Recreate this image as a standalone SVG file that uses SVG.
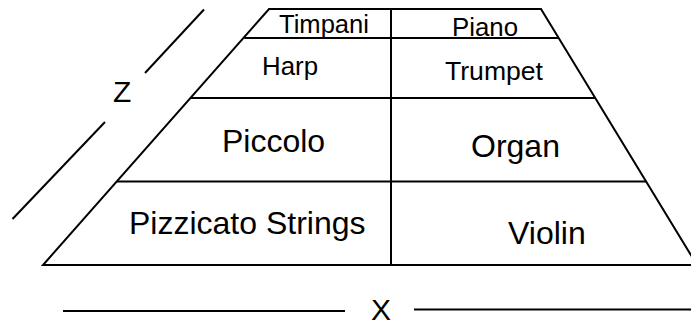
<svg xmlns="http://www.w3.org/2000/svg" width="691" height="326" viewBox="0 0 691 326">
  <style>
    .ln { stroke: #000; stroke-width: 2; fill: none; stroke-linecap: butt; }
    .t { font-family: "Liberation Sans", Arial, sans-serif; fill: #000; }
    .sm { font-size: 25px; }
    .lg { font-size: 32px; }
    .ax { font-size: 30px; }
  </style>
  <rect width="691" height="326" fill="#fff"/>

  <!-- trapezoid frame and grid lines -->
  <g id="connectors">
    <polygon class="ln" points="269,9 541,9 697,265 43,265"/>
    <line class="ln" x1="244.3" y1="38" x2="558.7" y2="38"/>
    <line class="ln" x1="191.1" y1="98" x2="595.2" y2="98"/>
    <line class="ln" x1="117.1" y1="181.5" x2="646.2" y2="181.5"/>
    <line class="ln" x1="391" y1="9" x2="391" y2="265"/>
    <!-- Z axis -->
    <line class="ln" x1="204" y1="9.5" x2="145" y2="73"/>
    <line class="ln" x1="105" y1="122" x2="12.5" y2="219"/>
    <!-- X axis -->
    <line class="ln" x1="63" y1="311" x2="345" y2="311"/>
    <line class="ln" x1="414" y1="309.5" x2="691" y2="309.5"/>
  </g>

  <g id="timpani"><text class="t sm" x="279" y="33" textLength="90" lengthAdjust="spacingAndGlyphs">Timpani</text></g>
  <g id="piano"><text class="t sm" x="452" y="36" textLength="66" lengthAdjust="spacingAndGlyphs">Piano</text></g>
  <g id="harp"><text class="t sm" x="262" y="75" textLength="56" lengthAdjust="spacingAndGlyphs">Harp</text></g>
  <g id="trumpet"><text class="t sm" x="445" y="80" textLength="98" lengthAdjust="spacingAndGlyphs">Trumpet</text></g>
  <g id="piccolo"><text class="t lg" x="222" y="152">Piccolo</text></g>
  <g id="organ"><text class="t lg" x="471" y="157">Organ</text></g>
  <g id="pizzicato-strings"><text class="t lg" x="129" y="234">Pizzicato Strings</text></g>
  <g id="violin"><text class="t lg" x="508" y="244">Violin</text></g>
  <g id="axis-z"><text class="t ax" x="113" y="102">Z</text></g>
  <g id="axis-x"><text class="t ax" x="371" y="320">X</text></g>
</svg>
